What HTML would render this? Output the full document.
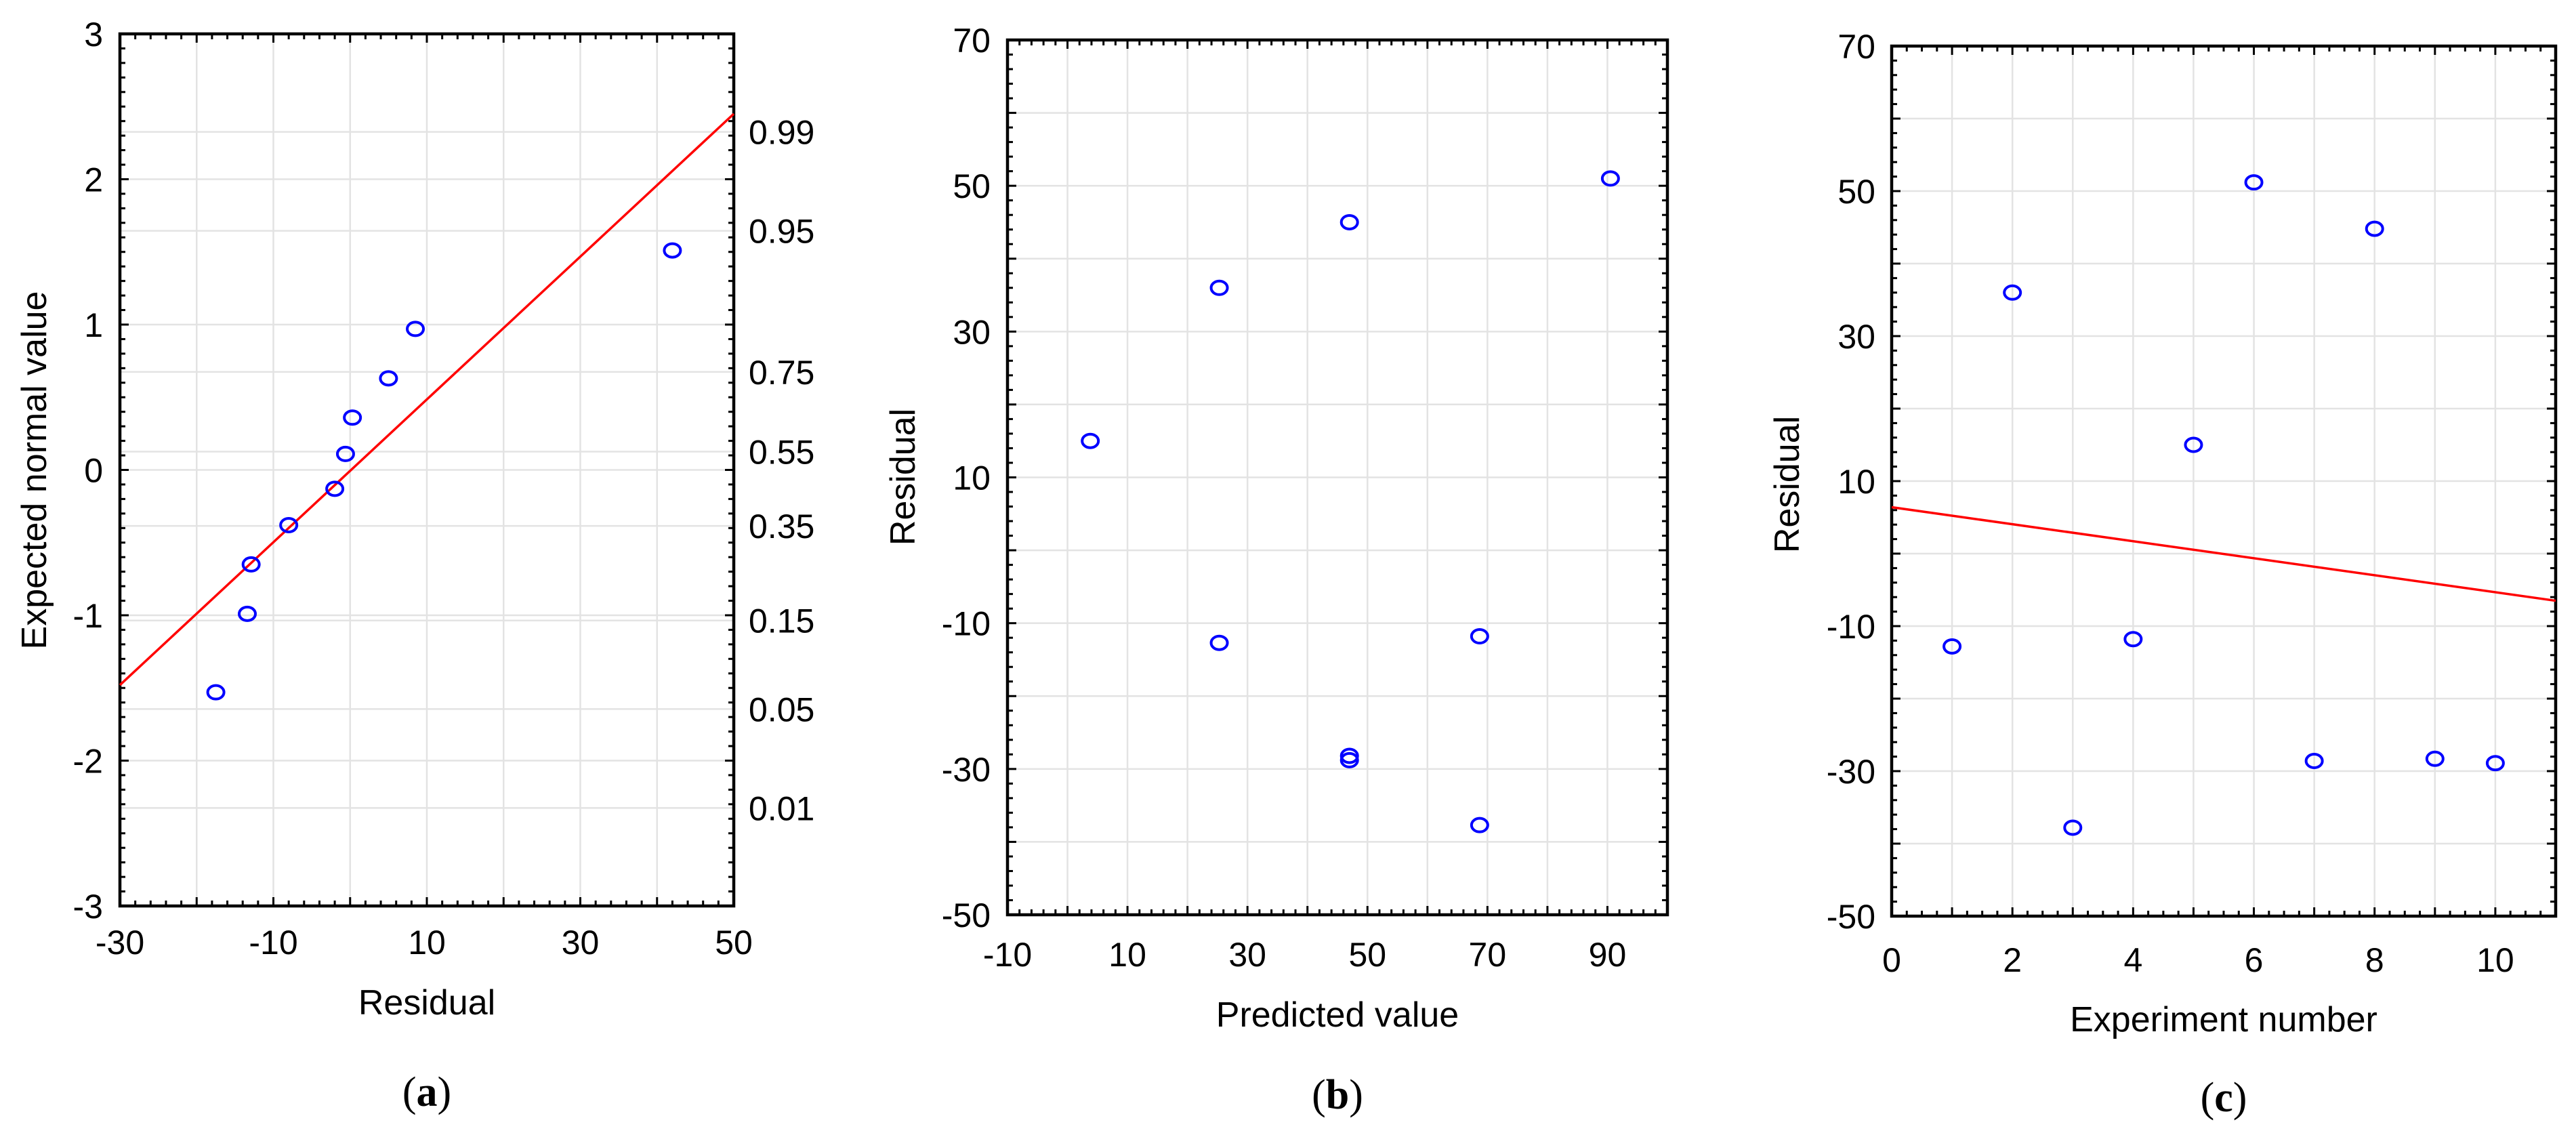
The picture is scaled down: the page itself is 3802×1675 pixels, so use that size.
<!DOCTYPE html>
<html><head><meta charset="utf-8"><style>
html,body{margin:0;padding:0;background:#fff}
svg{display:block}
text{font-family:"Liberation Sans",sans-serif;fill:#000}
.cap{font-family:"Liberation Serif",serif;font-weight:bold}
</style></head><body>
<svg id="fig" width="3802" height="1675" viewBox="0 0 3802 1675" xmlns="http://www.w3.org/2000/svg"></svg>
<script>
// Panel (a) data: normal probability plot
const aResidual = [-17.5, -13.4, -12.9, -8, -2, -0.6, 0.3, 5, 8.5, 42];
const aExpected = [-1.53, -0.99, -0.65, -0.38, -0.13, 0.11, 0.36, 0.63, 0.97, 1.51];
const aLineX = [-30, 50];
const aLineY = [-1.48, 2.45];
const aXTicks = [-30, -10, 10, 30, 50];
const aYTicks = [3, 2, 1, 0, -1, -2, -3];
const aProbLabels = ["0.99", "0.95", "0.75", "0.55", "0.35", "0.15", "0.05", "0.01"];
const aProbZ = [2.326, 1.645, 0.674, 0.126, -0.385, -1.036, -1.645, -2.326];
// Panel (b) data: residual vs predicted
const bPredicted = [3.8, 25.3, 25.3, 47, 47, 47, 68.7, 68.7, 90.5];
const bResidual = [15, 36, -12.7, 45, -28.2, -28.8, -11.8, -37.7, 51];
const bXTicks = [-10, 10, 30, 50, 70, 90];
const bYTicks = [70, 50, 30, 10, -10, -30, -50];
// Panel (c) data: residual vs experiment number
const cExperiment = [1, 2, 3, 4, 5, 6, 7, 8, 9, 10];
const cResidual = [-12.8, 36, -37.8, -11.8, 15, 51.2, -28.6, 44.8, -28.3, -28.9];
const cLineX = [0, 11];
const cLineY = [6.4, -6.5];
const cXTicks = [0, 2, 4, 6, 8, 10];
const cYTicks = [70, 50, 30, 10, -10, -30, -50];

const NS = "http://www.w3.org/2000/svg";
const svg = document.getElementById("fig");
function el(tag, attrs, parent, txt) {
  const e = document.createElementNS(NS, tag);
  for (const k in attrs) e.setAttribute(k, attrs[k]);
  if (txt !== undefined) e.textContent = txt;
  (parent || svg).appendChild(e);
  return e;
}
function panel(cfg) {
  const g = el("g", {});
  
  
  const X = v => cfg.x0 + (v - cfg.xmin) / (cfg.xmax - cfg.xmin) * (cfg.x1 - cfg.x0);
  const Y = v => cfg.y1 - (v - cfg.ymin) / (cfg.ymax - cfg.ymin) * (cfg.y1 - cfg.y0);
  const gg = el("g", {stroke: "#e3e3e3", "stroke-width": 2.5}, g);
  
  
  for (let v = cfg.xmin + cfg.xgrid; v < cfg.xmax - 1e-9; v += cfg.xgrid)
    el("line", {x1: X(v), x2: X(v), y1: cfg.y0, y2: cfg.y1}, gg);
  cfg.ygrid.forEach(v => el("line", {x1: cfg.x0, x2: cfg.x1, y1: Y(v), y2: Y(v)}, gg));
  const tg = el("g", {stroke: "#000"}, g);
  
  
  const eps = 1e-6;
  for (let v = cfg.xmin; v <= cfg.xmax + eps; v += cfg.xminor) {
    const major = Math.abs(((v - cfg.xmin) / cfg.xgrid) - Math.round((v - cfg.xmin) / cfg.xgrid)) < 1e-4;
    const L = major ? 13 : 8;
    el("line", {x1: X(v), x2: X(v), y1: cfg.y1, y2: cfg.y1 - L, "stroke-width": 3}, tg);
    el("line", {x1: X(v), x2: X(v), y1: cfg.y0, y2: cfg.y0 + L, "stroke-width": 3}, tg);
  }
  for (let v = cfg.ymin; v <= cfg.ymax + eps; v += cfg.yminor) {
    const major = Math.abs(((v - cfg.ymin) / cfg.ymajor) - Math.round((v - cfg.ymin) / cfg.ymajor)) < 1e-4;
    const L = major ? 13 : 8;
    el("line", {x1: cfg.x0, x2: cfg.x0 + L, y1: Y(v), y2: Y(v), "stroke-width": 3}, tg);
    el("line", {x1: cfg.x1, x2: cfg.x1 - L, y1: Y(v), y2: Y(v), "stroke-width": 3}, tg);
  }
  const fr = el("rect", {x: cfg.x0, y: cfg.y0, width: cfg.x1 - cfg.x0, height: cfg.y1 - cfg.y0, fill: "none", stroke: "#000", "stroke-width": 4.5}, g);
  
  
  if (cfg.lineX) {
    const ln = el("line", {x1: X(cfg.lineX[0]), y1: Y(cfg.lineY[0]), x2: X(cfg.lineX[1]), y2: Y(cfg.lineY[1]), stroke: "#ff0000", "stroke-width": 3.5}, g);
    
    
  }
  cfg.px.forEach((v, i) => {
    const c = el("ellipse", {cx: X(v), cy: Y(cfg.py[i]), rx: 12, ry: 10, fill: "none", stroke: "#0000ff", "stroke-width": 4}, g);
    
    
  });
  cfg.xticks.forEach(v => {
    const t = el("text", {x: X(v), y: cfg.xlabY, "font-size": 50, "text-anchor": "middle"}, g, String(v));
    
    
  });
  cfg.yticks.forEach(v => {
    const t = el("text", {x: cfg.ylabX, y: Y(v) + 18, "font-size": 50, "text-anchor": "end"}, g, String(v));
    
    
  });
  const xt = el("text", {x: (cfg.x0 + cfg.x1) / 2, y: cfg.xtitleY, "font-size": 52, "text-anchor": "middle"}, g, cfg.xtitle);
  
  
  const yt = el("text", {x: 0, y: 0, "font-size": 52, "text-anchor": "middle", transform: `translate(${cfg.ytitleX},${cfg.ytitleY}) rotate(-90)`}, g, cfg.ytitle);
  
  
  const cp = el("text", {x: (cfg.x0 + cfg.x1) / 2, y: cfg.capY, "font-size": 62, "text-anchor": "middle", class: "cap"}, g);
  
  
  el("tspan", {"font-weight": "normal"}, cp, "(");
  el("tspan", {}, cp, cfg.cap);
  el("tspan", {"font-weight": "normal"}, cp, ")");
  return {g, X, Y};
}

const A = panel({name: "panel-a-normal-probability", x0: 177, x1: 1083, y0: 50, y1: 1337,
  xmin: -30, xmax: 50, ymin: -3, ymax: 3, xgrid: 10, xminor: 2, ygrid: aProbZ.concat([2, 1, 0, -1, -2]), ymajor: 1, yminor: 0.1,
  px: aResidual, py: aExpected, lineX: aLineX, lineY: aLineY, xticks: aXTicks, yticks: aYTicks,
  xlabY: 1408, ylabX: 152, xtitle: "Residual", xtitleY: 1497, ytitle: "Expected normal value", ytitleX: 68, ytitleY: 694, cap: "a", capY: 1632});
aProbLabels.forEach((s, i) => {
  const t = el("text", {x: 1105, y: A.Y(aProbZ[i]) + 18, "font-size": 50}, A.g, s);
  
  
});
panel({name: "panel-b-residual-vs-predicted", x0: 1487, x1: 2461, y0: 59, y1: 1350,
  xmin: -10, xmax: 100, ymin: -50, ymax: 70, xgrid: 10, xminor: 2, ygrid: [60, 50, 40, 30, 20, 10, 0, -10, -20, -30, -40], ymajor: 10, yminor: 2,
  px: bPredicted, py: bResidual, xticks: bXTicks, yticks: bYTicks,
  xlabY: 1426, ylabX: 1462, xtitle: "Predicted value", xtitleY: 1515, ytitle: "Residual", ytitleX: 1350, ytitleY: 704, cap: "b", capY: 1636});
panel({name: "panel-c-residual-vs-experiment", x0: 2792, x1: 3772, y0: 68, y1: 1352,
  xmin: 0, xmax: 11, ymin: -50, ymax: 70, xgrid: 1, xminor: 0.25, ygrid: [60, 50, 40, 30, 20, 10, 0, -10, -20, -30, -40], ymajor: 10, yminor: 2,
  px: cExperiment, py: cResidual, lineX: cLineX, lineY: cLineY, xticks: cXTicks, yticks: cYTicks,
  xlabY: 1434, ylabX: 2768, xtitle: "Experiment number", xtitleY: 1522, ytitle: "Residual", ytitleX: 2655, ytitleY: 715, cap: "c", capY: 1640});
</script>
</body></html>
